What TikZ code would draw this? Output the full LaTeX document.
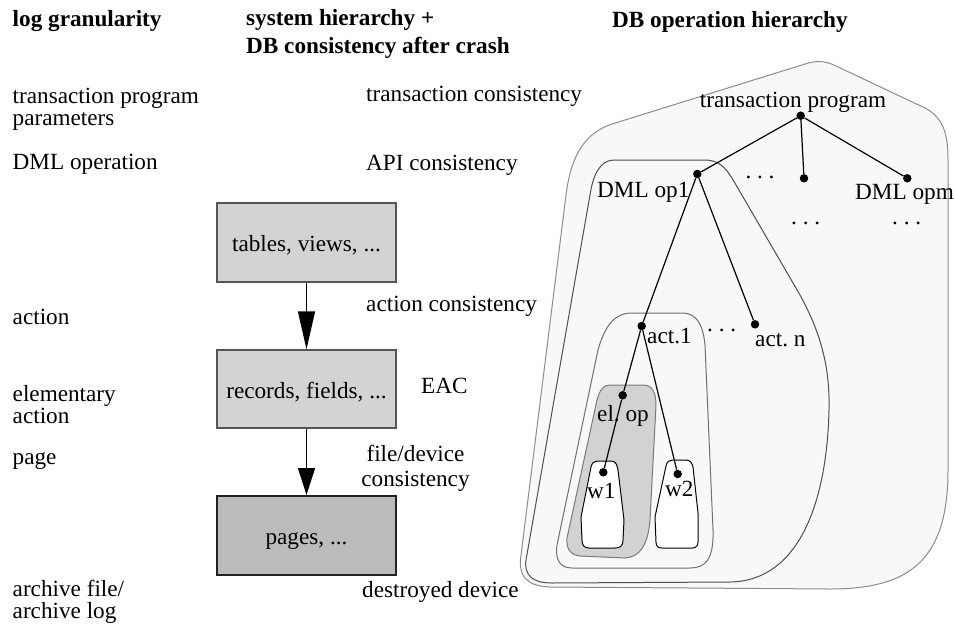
\documentclass[tikz,border=0pt]{standalone}
\usepackage{fontspec}
\setmainfont{Liberation Serif}
\usetikzlibrary{arrows.meta}
\definecolor{outerfill}{HTML}{F8F8F8}
\definecolor{outerline}{HTML}{8C8C8C}
\definecolor{midline}{HTML}{505050}
\definecolor{actline}{HTML}{707070}
\definecolor{elfill}{HTML}{D2D2D2}
\definecolor{elline}{HTML}{7A7A7A}
\definecolor{boxfill}{HTML}{D3D3D3}
\definecolor{boxline}{HTML}{555555}
\definecolor{pagefill}{HTML}{BBBBBB}
\definecolor{pageline}{HTML}{222222}
\tikzset{
  txt/.style={font=\fontsize{23.2pt}{26pt}\selectfont},
  lbl/.style={txt, anchor=base west, inner sep=0pt},
  lblc/.style={txt, anchor=base, inner sep=0pt},
  hdr/.style={lbl, font=\fontsize{23.2pt}{26pt}\selectfont\bfseries},
  dot/.style={circle, fill=black, inner sep=0pt, minimum size=8.5pt},
  sysbox/.style={txt, draw=boxline, fill=boxfill, line width=1.5pt, minimum width=179pt,
    minimum height=79pt, text height=20pt, text depth=2pt, inner sep=0pt},
  tedge/.style={line width=1.2pt, black},
  region/.style={fill=outerfill, line width=1pt},
}
\begin{document}
\frenchspacing
\begin{tikzpicture}[x=1pt,y=-1pt]
\useasboundingbox (0,0) rectangle (955,627);

% ---------- headers ----------
\node[hdr] (h1) at (12.5,26.8) {log granularity};
\node[hdr] (h2a) at (246,25.5) {system hierarchy +};
\node[hdr] (h2b) at (246,53.6) {DB consistency after crash};
\node[hdr] (h3) at (612,27) {DB operation hierarchy};

% ---------- left column ----------
\node[lbl] (l1a) at (12.5,103) {transaction program};
\node[lbl] (l1b) at (12.5,125) {parameters};
\node[lbl] (l2) at (12.5,169) {DML operation};
\node[lbl] (l3) at (12.5,324) {action};
\node[lbl] (l4a) at (12.5,401) {elementary};
\node[lbl] (l4b) at (12.5,423) {action};
\node[lbl] (l5) at (12.5,464) {page};
\node[lbl] (l6a) at (12.5,596) {archive file/};
\node[lbl] (l6b) at (12.5,618) {archive log};

% ---------- middle column ----------
\node[lbl] (m1) at (366,101) {transaction consistency};
\node[lbl] (m2) at (366,170) {API consistency};
\node[lbl] (m3) at (366,311) {action consistency};
\node[lbl] (m4) at (421,393) {EAC};
\node[lblc] (m5a) at (415.5,461.7) {file/device};
\node[lblc] (m5b) at (415.5,486.7) {consistency};
\node[lbl] (m6) at (362,597) {destroyed device};

\node[sysbox] (b1) at (306.5,242.5) {tables, views, ...};
\node[sysbox, minimum height=78pt] (b2) at (306.5,389) {records, fields, ...};
\node[sysbox, fill=pagefill, draw=pageline, line width=2pt] (b3) at (306.5,535.5) {pages, ...};
\draw[line width=1.5pt, -{Triangle[length=38pt,width=17pt]}] (b1.south) -- (b2.north);
\draw[line width=1.5pt, -{Triangle[length=27pt,width=17pt]}] (b2.south) -- (b3.north);

% ---------- nested regions ----------
\draw[region, draw=outerline]
  (612,124) -- (805,64) .. controls (817,60) and (826,61) .. (836,66)
  -- (925,108) .. controls (944,118) and (948,135) .. (948,160)
  -- (948,470) .. controls (948,560) and (910,589) .. (830,589)
  -- (550,587) .. controls (526,586) and (518,576) .. (521,555)
  -- (566,195) .. controls (571,155) and (585,133) .. (612,124) -- cycle;
\draw[region, draw=midline]
  (614,160) -- (705,160) .. controls (718,160) and (725,167) .. (732,178)
  -- (800,295) .. controls (822,335) and (830,370) .. (829,410)
  .. controls (827,500) and (800,581) .. (730,582)
  -- (552,583) .. controls (532,583) and (524,575) .. (526,560)
  -- (590,195) .. controls (593,175) and (600,160) .. (614,160) -- cycle;
\draw[region, draw=actline]
  (632,313) -- (682,313) .. controls (697,313) and (703,325) .. (705,345)
  -- (713,530) .. controls (714,560) and (705,568) .. (690,568)
  -- (572,568) .. controls (560,568) and (555,560) .. (557,545)
  -- (598,350) .. controls (605,325) and (615,313) .. (632,313) -- cycle;
\draw[line width=1pt, fill=elfill, draw=elline]
  (610,385) -- (643,385) .. controls (652,385) and (656,392) .. (656,405)
  -- (650,520) .. controls (648,545) and (640,557) .. (625,558)
  -- (580,556) .. controls (570,555) and (566,548) .. (567,538)
  -- (597,400) .. controls (600,390) and (603,385) .. (610,385) -- cycle;
\draw[line width=1pt, fill=white, draw=black]
  (597,461) -- (611,461) .. controls (616,461) and (617,465) .. (618,470)
  -- (624,520) -- (623,540) .. controls (623,546) and (620,548) .. (615,548)
  -- (589,548) .. controls (584,548) and (582,545) .. (582,540)
  -- (581,517) -- (591,467) .. controls (592,463) and (594,461) .. (597,461) -- cycle;
\draw[line width=1pt, fill=white, draw=black]
  (672,460) -- (686,460) .. controls (690,460) and (692,463) .. (693,467)
  -- (698,513) -- (698,542) .. controls (698,546) and (696,548) .. (692,548)
  -- (662,548) .. controls (658,548) and (656,546) .. (656,542)
  -- (655,517) -- (666,466) .. controls (667,462) and (669,460) .. (672,460) -- cycle;

% ---------- tree labels ----------
\node[lblc] (ltp) at (793,107) {transaction program};
\node[lbl] (ld1) at (597,197) {DML op1};
\node[lbl] (ldm) at (855,199) {DML opm};
\node[lblc] (e1) at (760,178.2) {. . .};
\node[lblc] (e2) at (805.7,224.5) {. . .};
\node[lblc] (e3) at (906.7,224.5) {. . .};
\node[lblc] (e4) at (721.7,331.5) {. . .};
\node[lbl] (la1) at (647,343) {act.1};
\node[lbl] (lan) at (755,346) {act. n};
\node[lbl] (lel) at (597,421) {el. op};
\node[lbl] (lw1) at (587,498) {w1};
\node[lbl] (lw2) at (665,496) {w2};

% ---------- tree ----------
\node[dot] (tp) at (800.7,115.7) {};
\node[dot] (d1) at (697.3,174) {};
\node[dot] (dx) at (804,178.3) {};
\node[dot] (dm) at (907.3,178.3) {};
\node[dot] (a1) at (641.7,326) {};
\node[dot] (an) at (755,324.3) {};
\node[dot] (el) at (622.7,395.3) {};
\node[dot] (w1) at (603.3,472.3) {};
\node[dot] (w2) at (677.7,474) {};

\draw[tedge] (tp) -- (d1);
\draw[tedge] (tp) -- (dx);
\draw[tedge] (tp) -- (dm);
\draw[tedge] (d1) -- (a1);
\draw[tedge] (d1) -- (an);
\draw[tedge] (a1) -- (el);
\draw[tedge] (el) -- (w1);
\draw[tedge] (a1) -- (w2);
\end{tikzpicture}
\end{document}
